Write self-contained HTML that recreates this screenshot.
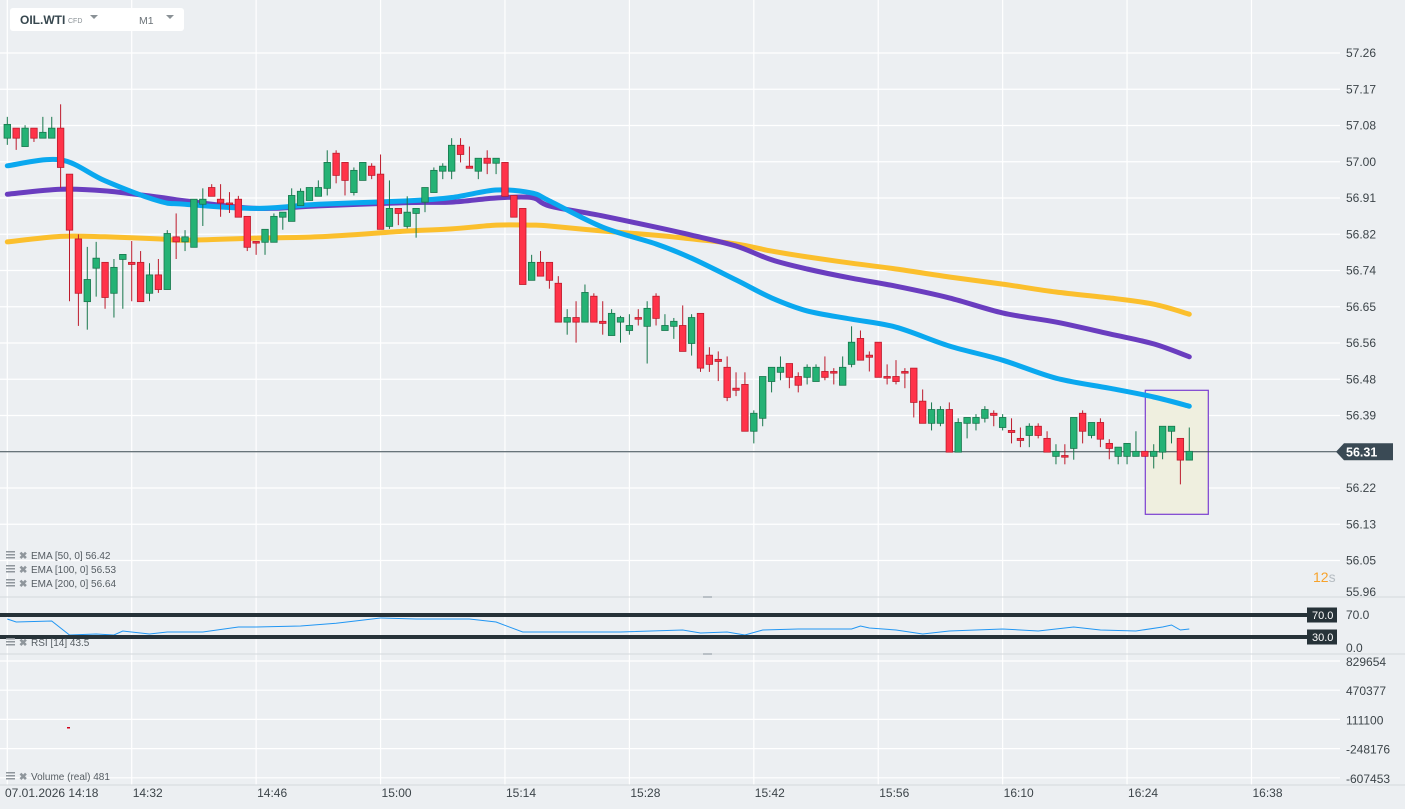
<!DOCTYPE html>
<html><head><meta charset="utf-8"><style>
html,body{margin:0;padding:0;background:#eceff2;}
svg{display:block;font-family:"Liberation Sans",sans-serif;}
</style></head><body>
<svg id="chart" width="1405" height="809" viewBox="0 0 1405 809" xmlns="http://www.w3.org/2000/svg">
<rect x="0" y="0" width="1405" height="809" fill="#eceff2"/>
<g id="grid"></g>
<rect x="1145.3" y="390.3" width="63" height="124" fill="#efefdf" stroke="#7b3fd0" stroke-width="1.2"/>
<g id="ema"></g>
<g id="candles"></g>
<g id="rsi"></g>
<g id="axes"></g>
<g>
<rect x="10" y="8" width="174" height="23" rx="3" fill="#ffffff"/>
<text x="20" y="24" font-size="12" font-weight="bold" fill="#37474f">OIL.WTI</text>
<text x="68" y="23" font-size="7" fill="#8a9196">CFD</text>
<path d="M90 15 L98 15 L94 19 Z" fill="#8a9196"/>
<text x="139" y="24" font-size="10.5" fill="#6b7278">M1</text>
<path d="M166 15 L174 15 L170 19 Z" fill="#8a9196"/>
</g>
</svg>
<script>
// ---- data ----
const opens  = [57.060,57.084,57.040,57.084,57.060,57.060,57.084,56.974,56.819,56.669,56.749,56.763,56.689,56.770,56.763,56.763,56.689,56.733,56.698,56.824,56.812,56.799,56.902,56.942,56.914,56.905,56.914,56.873,56.813,56.811,56.811,56.871,56.861,56.899,56.911,56.921,56.940,57.024,57.002,56.930,56.959,56.993,56.974,56.849,56.892,56.849,56.880,56.907,56.930,56.981,56.981,57.043,56.993,56.981,57.012,57.000,57.002,56.923,56.892,56.720,56.763,56.763,56.713,56.620,56.631,56.620,56.682,56.622,56.588,56.620,56.600,56.631,56.610,56.682,56.600,56.610,56.612,56.569,56.641,56.541,56.531,56.512,56.462,56.471,56.359,56.390,56.478,56.500,56.521,56.490,56.488,56.478,56.502,56.502,56.469,56.519,56.581,56.541,56.572,56.490,56.490,56.502,56.510,56.431,56.378,56.378,56.411,56.309,56.378,56.378,56.390,56.402,56.368,56.361,56.342,56.349,56.371,56.342,56.299,56.301,56.318,56.402,56.349,56.380,56.330,56.299,56.299,56.299,56.311,56.299,56.309,56.359,56.342,56.290];
const highs  = [57.111,57.084,57.091,57.084,57.111,57.111,57.141,56.974,56.830,56.800,56.812,56.763,56.771,56.782,56.814,56.790,56.761,56.771,56.840,56.880,56.840,56.914,56.940,56.950,56.950,56.931,56.922,56.873,56.813,56.842,56.880,56.883,56.940,56.940,56.942,56.959,57.031,57.031,57.002,56.990,57.002,57.000,57.021,56.959,56.892,56.921,56.892,56.942,56.990,57.000,57.060,57.060,57.040,57.012,57.031,57.012,57.002,56.923,56.892,56.781,56.790,56.763,56.730,56.651,56.670,56.710,56.689,56.670,56.651,56.635,56.639,56.651,56.670,56.689,56.639,56.630,56.660,56.639,56.641,56.560,56.550,56.538,56.500,56.500,56.409,56.490,56.512,56.538,56.521,56.500,56.519,56.519,56.538,56.510,56.538,56.610,56.600,56.550,56.572,56.519,56.529,56.510,56.510,56.459,56.428,56.419,56.428,56.390,56.392,56.400,56.419,56.409,56.400,56.390,56.368,56.378,56.378,56.359,56.328,56.328,56.392,56.409,56.380,56.390,56.340,56.321,56.330,56.359,56.311,56.328,56.371,56.371,56.342,56.368];
const lows   = [57.044,57.032,57.040,57.051,57.060,57.060,56.941,56.670,56.611,56.602,56.681,56.652,56.631,56.652,56.670,56.669,56.670,56.690,56.698,56.771,56.790,56.799,56.850,56.921,56.872,56.881,56.871,56.790,56.781,56.781,56.811,56.841,56.861,56.899,56.911,56.921,56.923,56.952,56.923,56.923,56.959,56.962,56.842,56.843,56.852,56.844,56.822,56.883,56.930,56.962,56.962,57.002,56.988,56.962,56.974,56.974,56.921,56.871,56.710,56.720,56.730,56.700,56.620,56.590,56.571,56.620,56.620,56.590,56.588,56.571,56.590,56.612,56.521,56.612,56.600,56.580,56.550,56.540,56.501,56.501,56.479,56.431,56.443,56.359,56.330,56.371,56.452,56.481,56.462,56.452,56.471,56.478,56.481,56.471,56.469,56.512,56.529,56.502,56.488,56.471,56.471,56.462,56.392,56.378,56.361,56.371,56.309,56.309,56.342,56.361,56.380,56.371,56.361,56.330,56.321,56.321,56.342,56.309,56.280,56.280,56.291,56.330,56.342,56.321,56.292,56.280,56.280,56.299,56.299,56.270,56.292,56.330,56.232,56.290];
const closes = [57.093,57.060,57.084,57.060,57.074,57.084,56.990,56.840,56.689,56.722,56.773,56.679,56.751,56.782,56.758,56.669,56.733,56.698,56.832,56.812,56.824,56.914,56.914,56.921,56.905,56.903,56.871,56.799,56.809,56.842,56.873,56.883,56.923,56.933,56.942,56.942,57.002,56.971,56.959,56.983,57.002,56.971,56.842,56.892,56.880,56.883,56.892,56.942,56.983,56.993,57.043,57.021,56.988,57.012,57.000,57.012,56.921,56.871,56.710,56.763,56.730,56.720,56.620,56.631,56.620,56.691,56.620,56.617,56.641,56.631,56.612,56.627,56.653,56.629,56.612,56.622,56.550,56.631,56.510,56.519,56.526,56.440,56.457,56.359,56.402,56.490,56.512,56.512,56.488,56.469,56.512,56.512,56.488,56.498,56.512,56.572,56.529,56.536,56.488,56.486,56.478,56.498,56.428,56.378,56.411,56.411,56.309,56.380,56.392,56.392,56.411,56.397,56.392,56.356,56.337,56.371,56.349,56.309,56.311,56.297,56.392,56.359,56.380,56.340,56.318,56.321,56.330,56.311,56.299,56.311,56.371,56.371,56.290,56.311];
const emaIdx = [0,6,11,17,20,28,35,45,50,55,59,61,67,73,77,82,86,90,95,100,106,112,118,124,129,133];
const ema50  = [56.994,57.008,56.958,56.910,56.902,56.892,56.902,56.910,56.918,56.936,56.929,56.910,56.847,56.807,56.773,56.721,56.678,56.647,56.627,56.608,56.563,56.529,56.486,56.462,56.441,56.419];
const ema100 = [56.926,56.938,56.934,56.919,56.910,56.892,56.898,56.906,56.907,56.917,56.918,56.898,56.874,56.847,56.828,56.802,56.769,56.747,56.725,56.706,56.678,56.642,56.620,56.592,56.568,56.537];
const ema200 = [56.812,56.825,56.824,56.819,56.816,56.821,56.824,56.838,56.843,56.852,56.852,56.850,56.838,56.828,56.819,56.807,56.790,56.776,56.761,56.747,56.728,56.711,56.692,56.678,56.663,56.639];
const rsiIdx = [0,1,5,7,10,12,13,16,18,22,26,28,33,37,42,46,52,55,58,62,69,76,78,81,83,85,89,95,96,97,100,103,106,112,116,120,123,127,130,131,132,133];
const rsiVals = [62.7,57.3,59,33.6,35.5,33.6,40.9,35.5,39.1,39.1,48.2,48.2,50,55,64.5,62.7,62.7,57.3,39.1,39.1,39.1,42.7,37.3,39.1,33.6,42.7,44.5,44.5,50,46.4,42.7,35.5,40.9,44.5,40.9,48.2,42.7,40.9,48.2,51.8,42.7,44.5];
const priceTicks = ["57.26","57.17","57.08","57.00","56.91","56.82","56.74","56.65","56.56","56.48","56.39","56.31","56.22","56.13","56.05","55.96"];
const timeLabels = ["07.01.2026 14:18","14:32","14:46","15:00","15:14","15:28","15:42","15:56","16:10","16:24","16:38"];
const volTicks = ["829654","470377","111100","-248176","-607453"];
const lastPrice = 56.31;

// ---- scales ----
const X = i => 7.3 + i * 8.887;
const Y = p => 451.75 - (p - 56.31) * 418.1;
const tickY = j => 53 + j * 36.25;
const rsiY = v => 653.5 - v * 0.55;
const NS = "http://www.w3.org/2000/svg";
function mk(tag, attrs, parent) {
  const e = document.createElementNS(NS, tag);
  for (const k in attrs) e.setAttribute(k, attrs[k]);
  parent.appendChild(e);
  return e;
}
function smoothPath(pts) {
  let d = 'M' + pts[0][0].toFixed(1) + ' ' + pts[0][1].toFixed(1);
  for (let i = 0; i < pts.length - 1; i++) {
    const p0 = pts[i - 1] || pts[i], p1 = pts[i], p2 = pts[i + 1], p3 = pts[i + 2] || p2;
    const c1x = p1[0] + (p2[0] - p0[0]) / 6, c1y = p1[1] + (p2[1] - p0[1]) / 6;
    const c2x = p2[0] - (p3[0] - p1[0]) / 6, c2y = p2[1] - (p3[1] - p1[1]) / 6;
    d += ` C${c1x.toFixed(1)} ${c1y.toFixed(1)} ${c2x.toFixed(1)} ${c2y.toFixed(1)} ${p2[0].toFixed(1)} ${p2[1].toFixed(1)}`;
  }
  return d;
}
const grid = document.getElementById('grid');
const axes = document.getElementById('axes');

priceTicks.forEach((t, j) => {
  const y = tickY(j);
  if (j < 15) {
    const l = mk('line', {x1: 0, x2: 1340, y1: y, y2: y, stroke: '#ffffff', 'stroke-width': 1.2}, grid);
    
    
  }
  const ty = j === 15 ? 596 : y + 4;
  const tx = mk('text', {x: 1346, y: ty, 'font-size': 12, fill: '#3c4449'}, axes);
  tx.textContent = t;
  
  
});
timeLabels.forEach((t, k) => {
  const x = X(k * 14);
  const l = mk('line', {x1: x, x2: x, y1: 0, y2: 785, stroke: '#ffffff', 'stroke-width': 1.2}, grid);
  
  
  const tx = mk('text', {x: k === 0 ? 5 : x + 1, y: 797, 'font-size': 12, fill: '#3c4449'}, axes);
  tx.textContent = t;
  
  
});
volTicks.forEach((t, k) => {
  const y = 661 + k * 29.2;
  const l = mk('line', {x1: 0, x2: 1340, y1: y, y2: y, stroke: '#ffffff', 'stroke-width': 1.2}, grid);
  
  
  const tx = mk('text', {x: 1346, y: y + 5, 'font-size': 12, fill: '#3c4449'}, axes);
  tx.textContent = t;
  
  
});
[597, 654, 785].forEach(y => {
  const l = mk('line', {x1: 0, x2: 1405, y1: y, y2: y, stroke: '#d3d8dc', 'stroke-width': 1}, grid);
  
  
});
[597, 654].forEach(y => {
  const h = mk('rect', {x: 703, y: y - 1, width: 9, height: 2, fill: '#b9c0c6'}, grid);
  
  
});

function emaLine(vals, color, name) {
  const pts = emaIdx.map((i, k) => [X(i), Y(vals[k])]);
  const pl = mk('path', {d: smoothPath(pts), fill: 'none', stroke: color, 'stroke-width': 5, 'stroke-linejoin': 'round', 'stroke-linecap': 'round'}, document.getElementById('ema'));
  
  
}
emaLine(ema200, '#fbbf2d', 'ema-200-line');
emaLine(ema100, '#6a3dbf', 'ema-100-line');
emaLine(ema50, '#0aa8ef', 'ema-50-line');

const lp = mk('line', {x1: 0, x2: 1340, y1: Y(lastPrice), y2: Y(lastPrice), stroke: '#37474f', 'stroke-width': 1}, document.getElementById('ema'));



const cg = document.getElementById('candles');
opens.forEach((o, i) => {
  const c = closes[i], up = c >= o;
  const fill = up ? '#25b275' : '#ff3349';
  const stroke = up ? '#17774c' : '#bd1a2b';
  const x = X(i);
  const w = mk('line', {x1: x, x2: x, y1: Y(highs[i]), y2: Y(lows[i]), stroke: stroke, 'stroke-width': 1}, cg);
  
  
  const top = Y(Math.max(o, c)), bot = Y(Math.min(o, c));
  const b = mk('rect', {x: x - 3.25, y: top, width: 6.5, height: Math.max(1.5, bot - top), fill: fill, stroke: stroke, 'stroke-width': 0.8}, cg);
  
  
});

const tagY = Y(lastPrice);
const tag = mk('path', {d: `M1336 ${tagY} L1344 ${tagY-8.5} L1393 ${tagY-8.5} L1393 ${tagY+8.5} L1344 ${tagY+8.5} Z`, fill: '#3a4a55'}, axes);


const tagT = mk('text', {x: 1346, y: tagY + 4.5, 'font-size': 12.5, 'font-weight': 'bold', fill: '#ffffff'}, axes);
tagT.textContent = lastPrice.toFixed(2);



const rg = document.getElementById('rsi');
const rpts = rsiIdx.map((i, k) => X(i).toFixed(1) + ',' + rsiY(rsiVals[k]).toFixed(1)).join(' ');
const rl = mk('polyline', {points: rpts, fill: 'none', stroke: '#2196f3', 'stroke-width': 1}, rg);


[70, 30].forEach(v => {
  const y = rsiY(v);
  const l = mk('line', {x1: 0, x2: 1308, y1: y, y2: y, stroke: '#263238', 'stroke-width': 4}, rg);
  
  
  const r = mk('rect', {x: 1307, y: y - 7.5, width: 30, height: 15, fill: '#263238'}, rg);
  
  
  const t = mk('text', {x: 1312, y: y + 4, 'font-size': 11, fill: '#ffffff'}, rg);
  t.textContent = v.toFixed(1);
  
  
});
[[70, 619], [0, 652]].forEach(([v, y]) => {
  const t = mk('text', {x: 1346, y: y, 'font-size': 12, fill: '#3c4449'}, axes);
  t.textContent = v.toFixed(1);
  
  
});

const vm = mk('rect', {x: 67, y: 727, width: 3, height: 1.5, fill: '#d0021b'}, grid);



const legends = [[558, 'EMA  [50,  0]  56.42'], [572, 'EMA  [100,  0]  56.53'], [586, 'EMA  [200,  0]  56.64'], [645, 'RSI  [14]  43.5'], [779, 'Volume  (real)  481']];
legends.forEach(([y, s]) => {
  const g = mk('g', {}, axes);
  
  
  mk('rect', {x: 6, y: y - 7, width: 9, height: 1.5, fill: '#8f969c'}, g);
  mk('rect', {x: 6, y: y - 4, width: 9, height: 1.5, fill: '#8f969c'}, g);
  mk('rect', {x: 6, y: y - 1, width: 9, height: 1.5, fill: '#8f969c'}, g);
  const x = mk('text', {x: 19, y: y + 1, 'font-size': 10, 'font-weight': 'bold', fill: '#8f969c'}, g);
  x.textContent = '✖';
  const t = mk('text', {x: 31, y: y + 1, 'font-size': 10, fill: '#555c62'}, g);
  t.textContent = s;
});

const cd = mk('text', {x: 1313, y: 582, 'font-size': 14}, axes);


const s1 = mk('tspan', {fill: '#f7a22a'}, cd); s1.textContent = '12';
const s2 = mk('tspan', {fill: '#b5bcc2'}, cd); s2.textContent = 's';
</script>
</body></html>
